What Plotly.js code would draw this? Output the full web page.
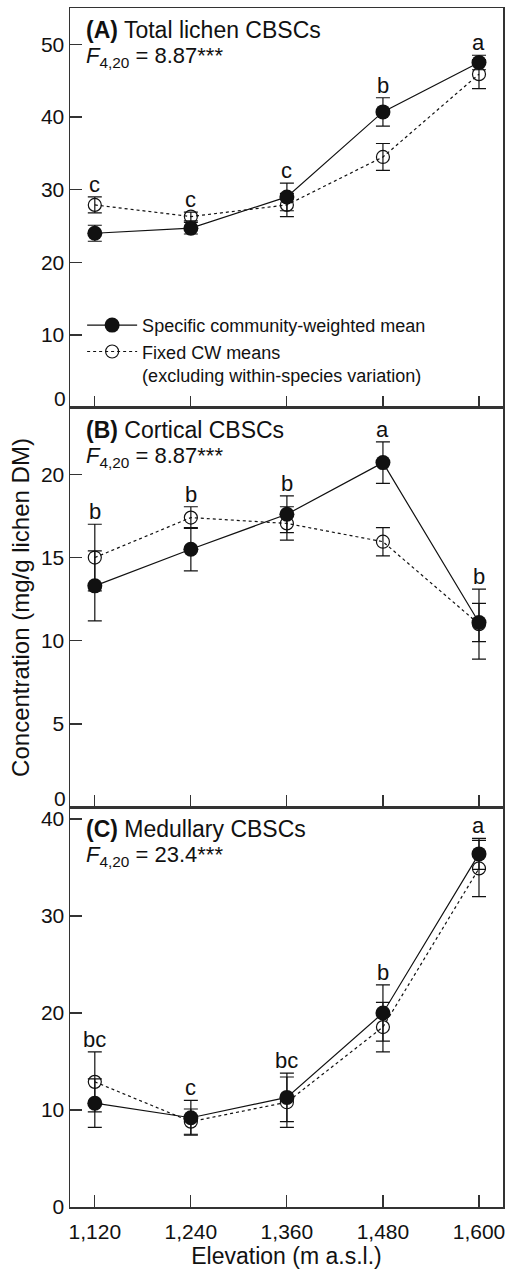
<!DOCTYPE html>
<html>
<head>
<meta charset="utf-8">
<script src="https://cdn.plot.ly/plotly-3.0.1.min.js"></script>
<style>
  html, body { margin: 0; padding: 0; background: #fff; }
  #chart { width: 512px; height: 1270px; }
</style>
</head>
<body>
<div id="chart"></div>
<script>
// ---------- data ----------
const elevation = [1120, 1240, 1360, 1480, 1600];
const elevationLabels = ['1,120', '1,240', '1,360', '1,480', '1,600'];

// (A) Total lichen CBSCs
const totalSpecific    = [24.0, 24.7, 29.0, 40.7, 47.5];
const totalSpecificErr = [1.1, 0.8, 1.9, 1.95, 1.0];
const totalFixed       = [27.9, 26.3, 27.9, 34.5, 45.9];
const totalFixedErr    = [1.1, 0.6, 1.6, 1.85, 2.0];
const totalLetters     = ['c', 'c', 'c', 'b', 'a'];

// (B) Cortical CBSCs
const corticalSpecific    = [13.3, 15.5, 17.6, 20.7, 11.1];
const corticalSpecificErr = [2.1, 1.3, 1.1, 1.25, 1.15];
const corticalFixed       = [15.0, 17.4, 17.05, 15.95, 11.0];
const corticalFixedErr    = [2.0, 0.65, 1.0, 0.85, 2.1];
const corticalLetters     = ['b', 'b', 'b', 'a', 'b'];

// (C) Medullary CBSCs
const medullarySpecific    = [10.7, 9.2, 11.3, 20.0, 36.4];
const medullarySpecificErr = [2.5, 1.8, 2.5, 2.9, 1.6];
const medullaryFixed       = [12.9, 8.8, 10.8, 18.55, 34.9];
const medullaryFixedErr    = [3.1, 1.3, 2.6, 2.55, 2.9];
const medullaryLetters     = ['bc', 'c', 'bc', 'b', 'a'];

const panelTags   = ['(A)', '(B)', '(C)'];
const panelNames  = ['Total lichen CBSCs', 'Cortical CBSCs', 'Medullary CBSCs'];
const fStats      = ['8.87', '8.87', '23.4'];
const yRanges     = [[0, 55], [0, 24], [0, 41.2]];
const yTickVals   = [[10, 20, 30, 40, 50], [5, 10, 15, 20], [0, 10, 20, 30, 40]];
const seriesNames = ['Specific community-weighted mean',
                     'Fixed CW means<br>(excluding within-species variation)'];

// ---------- build ----------
const panels = [
  [totalSpecific, totalSpecificErr, totalFixed, totalFixedErr, totalLetters],
  [corticalSpecific, corticalSpecificErr, corticalFixed, corticalFixedErr, corticalLetters],
  [medullarySpecific, medullarySpecificErr, medullaryFixed, medullaryFixedErr, medullaryLetters]
];

const FONT = 'Liberation Sans, Arial, Helvetica, sans-serif';
const INK = '#111';
const traces = [];
const annotations = [];

panels.forEach((p, i) => {
  const [spec, specErr, fixed, fixedErr, letters] = p;
  const xa = i === 0 ? 'x' : 'x' + (i + 1);
  const ya = i === 0 ? 'y' : 'y' + (i + 1);

  traces.push({
    type: 'scatter', mode: 'lines+markers', x: elevation, y: fixed,
    xaxis: xa, yaxis: ya, name: seriesNames[1], legendrank: 2,
    showlegend: i === 0, cliponaxis: false,
    line: { color: INK, width: 1.2, dash: 'dot' },
    marker: { symbol: 'circle-open', size: 13, color: INK, line: { color: INK, width: 1.2 } },
    error_y: { type: 'data', array: fixedErr, visible: true, color: INK, thickness: 1.2, width: 7 }
  });
  traces.push({
    type: 'scatter', mode: 'lines+markers', x: elevation, y: spec,
    xaxis: xa, yaxis: ya, name: seriesNames[0], legendrank: 1,
    showlegend: i === 0, cliponaxis: false,
    line: { color: INK, width: 1.2 },
    marker: { symbol: 'circle', size: 15, color: INK },
    error_y: { type: 'data', array: specErr, visible: true, color: INK, thickness: 1.2, width: 7 }
  });

  // significance letters above the highest error bar
  elevation.forEach((e, k) => {
    const top = Math.max(spec[k] + specErr[k], fixed[k] + fixedErr[k]);
    annotations.push({
      xref: xa, yref: ya, x: e, y: top, text: letters[k], showarrow: false,
      xanchor: 'center', yanchor: 'bottom', yshift: -2,
      font: { family: FONT, size: 22, color: INK }
    });
  });

  annotations.push({
    xref: xa + ' domain', yref: ya + ' domain', x: 0.033, y: 1, yshift: -22,
    xanchor: 'left', yanchor: 'middle', showarrow: false,
    text: '<b>' + panelTags[i] + '</b> ' + panelNames[i],
    font: { family: FONT, size: 23, color: INK }
  });
  annotations.push({
    xref: xa + ' domain', yref: ya + ' domain', x: 0.033, y: 1, yshift: -49,
    xanchor: 'left', yanchor: 'middle', showarrow: false,
    text: '<i>F</i><sub>4,20</sub> = ' + fStats[i] + '***',
    font: { family: FONT, size: 22, color: INK }
  });

  // the "0" of the upper two panels sits slightly raised, as in the original
  if (i < 2) {
    annotations.push({
      xref: xa + ' domain', yref: ya, x: 0, y: 0, xshift: -2, yshift: 9,
      xanchor: 'right', yanchor: 'middle', showarrow: false, text: '0',
      font: { family: FONT, size: 21, color: INK }
    });
  }
});

function xAxis(i) {
  return {
    domain: [0, 1], anchor: i === 0 ? 'y' : 'y' + (i + 1),
    range: [1089, 1630], tickvals: elevation, ticktext: elevationLabels,
    showticklabels: i === 2, ticks: 'inside', ticklen: 12, tickwidth: 1.2, tickcolor: '#333',
    showline: true, mirror: true, linecolor: '#333', linewidth: 1.5,
    showgrid: false, zeroline: false, ticklabelstandoff: 5,
    tickfont: { family: FONT, size: 21, color: INK }
  };
}
function yAxis(i, dom) {
  return {
    domain: dom, anchor: i === 0 ? 'x' : 'x' + (i + 1),
    range: yRanges[i], tickvals: yTickVals[i],
    ticks: 'inside', ticklen: 12, tickwidth: 1.2, tickcolor: '#333',
    showline: true, mirror: true, linecolor: '#333', linewidth: 1.5,
    showgrid: false, zeroline: false,
    tickfont: { family: FONT, size: 21, color: INK }
  };
}

const layout = {
  width: 512, height: 1270,
  margin: { l: 70, r: 9, t: 8, b: 63 },
  paper_bgcolor: '#fff', plot_bgcolor: '#fff',
  font: { family: FONT, color: INK },
  showlegend: true,
  legend: {
    x: 0.028, y: 0.7507, xanchor: 'left', yanchor: 'top', itemwidth: 50,
    bgcolor: 'rgba(0,0,0,0)', borderwidth: 0, valign: 'top',
    font: { family: FONT, size: 18, color: INK }, tracegroupgap: 0
  },
  xaxis: xAxis(0), xaxis2: xAxis(1),
  xaxis3: Object.assign(xAxis(2), {
    title: { text: 'Elevation (m a.s.l.)', font: { family: FONT, size: 23, color: INK }, standoff: 6 }
  }),
  yaxis: yAxis(0, [2 / 3, 1]),
  yaxis2: Object.assign(yAxis(1, [1 / 3, 2 / 3]), {
    title: { text: 'Concentration (mg/g lichen DM)', font: { family: FONT, size: 24, color: INK }, standoff: 4 }
  }),
  yaxis3: yAxis(2, [0, 1 / 3]),
  annotations: annotations
};

Plotly.newPlot('chart', traces, layout, { staticPlot: true, displayModeBar: false });
</script>
</body>
</html>
